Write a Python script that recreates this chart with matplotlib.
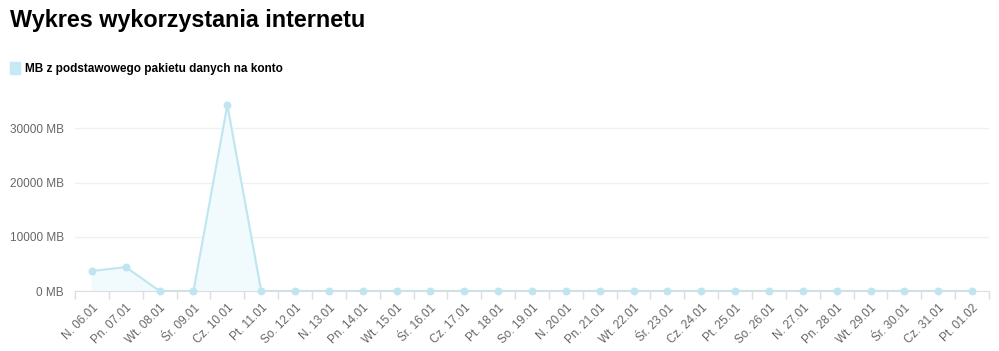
import matplotlib.pyplot as plt

plt.rcParams['font.family'] = ['Liberation Sans', 'DejaVu Sans']

#-------------------------------------------------------------------------------
# Data
days = ['N.', 'Pn.', 'Wt.', 'Śr.', 'Cz.', 'Pt.', 'So.'] * 4
dates = ['06.01', '07.01', '08.01', '09.01', '10.01', '11.01', '12.01',
         '13.01', '14.01', '15.01', '16.01', '17.01', '18.01', '19.01',
         '20.01', '21.01', '22.01', '23.01', '24.01', '25.01', '26.01',
         '27.01', '28.01', '29.01', '30.01', '31.01', '01.02']
labels = [d + ' ' + t for d, t in zip(days, dates)]
usage_mb = [3700, 4400, 0, 0, 34300, 0, 0, 0, 0, 0, 0, 0, 0, 0,
            0, 0, 0, 0, 0, 0, 0, 0, 0, 0, 0, 0, 0]
y_ticks = [0, 10000, 20000, 30000]
#-------------------------------------------------------------------------------

line_col = '#bfe6f0'
fill_col = '#f1fafd'

fig = plt.figure(figsize=(9.99, 3.51), dpi=100)
ax = fig.add_axes([75/999, 60/351, 914/999, 186/351])

x = range(len(usage_mb))
ax.fill_between(x, usage_mb, 0, color=fill_col, zorder=1)
ax.plot(x, usage_mb, color=line_col, lw=1.5, zorder=2)
ax.scatter(x, usage_mb, color=line_col, s=22, zorder=3, clip_on=False)

ax.set_xlim(-0.5, len(usage_mb) - 0.5)
ax.set_ylim(0, max(usage_mb))

# category boundary ticks
ax.set_xticks([i - 0.5 for i in range(len(usage_mb) + 1)], minor=False)
ax.set_xticklabels([])
ax.set_xticks(list(x), minor=True)
ax.set_xticklabels(labels, minor=True, rotation=45, ha='right',
                   rotation_mode='anchor', fontsize=8.5, color='#666666')
ax.tick_params(axis='x', which='major', length=6, color='#dddddd', width=1)
ax.tick_params(axis='x', which='minor', length=0, pad=8)

ax.set_yticks(y_ticks)
ax.set_yticklabels(['%d MB' % v for v in y_ticks], fontsize=8.5, color='#666666')
ax.tick_params(axis='y', length=0, pad=8)
ax.grid(axis='y', color='#f0f0f0', lw=1)
ax.set_axisbelow(True)

for s in ['top', 'right', 'left']:
    ax.spines[s].set_visible(False)
ax.spines['bottom'].set_color('#dddddd')

fig.text(10/999, 1 - 20/351, 'Wykres wykorzystania internetu', fontsize=16.8,
         fontweight='bold', va='center', ha='left')
fig.patches.append(plt.Rectangle((10/999, 1 - 74/351), 10/999, 12/351,
                                 transform=fig.transFigure, color='#c5e9f5'))
fig.text(25/999, 1 - 69/351, 'MB z podstawowego pakietu danych na konto',
         fontsize=8.5, fontweight='bold', va='center', ha='left')

fig.savefig('out.png')
